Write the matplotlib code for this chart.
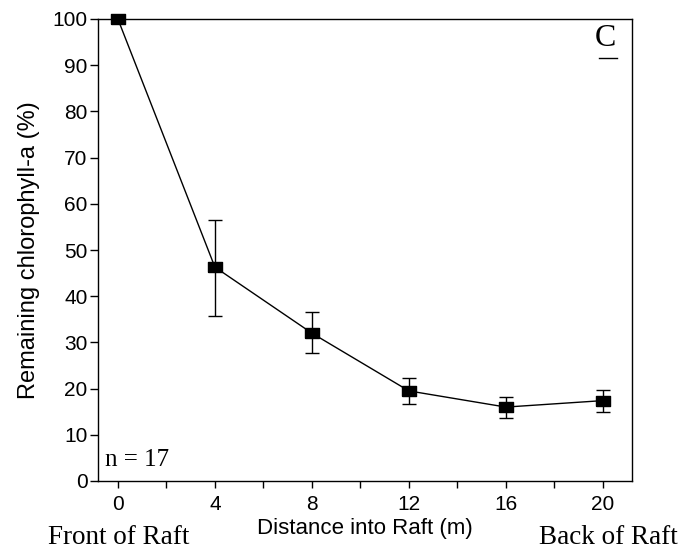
import matplotlib
matplotlib.use('Agg')

import matplotlib.pyplot as plt
import numpy as np

# ---------------------------
# DATA
# ---------------------------
distance = [0, 4, 8, 12, 16, 20]
chl_remaining = [100, 46.3, 32.0, 19.5, 16.0, 17.4]
err_low = [0, 10.6, 4.4, 2.8, 2.4, 2.5]
err_high = [0, 10.2, 4.5, 2.9, 2.1, 2.4]

x_ticks = [0, 4, 8, 12, 16, 20]
x_minor = [2, 6, 10, 14, 18]
y_ticks = list(range(0, 101, 10))

# ---------------------------
# FIGURE
# ---------------------------
plt.rcParams['font.family'] = ['Liberation Sans', 'DejaVu Sans']
fig = plt.figure(figsize=(6.8, 5.53), dpi=100)
ax = fig.add_axes([98 / 680, 1 - 481 / 553, (632 - 98) / 680, (481 - 19) / 553])

# slightly wide filled square, like the original symbols
box = [(-1.3, -1), (1.3, -1), (1.3, 1), (-1.3, 1), (-1.3, -1)]

ax.errorbar(distance, chl_remaining, yerr=[err_low, err_high],
            color='black', lw=1.0, elinewidth=1.0, capsize=5, capthick=1.0,
            marker=box, markersize=9.5, markerfacecolor='black',
            markeredgecolor='black', clip_on=False, zorder=3)

ax.set_xlim(-0.82, 21.2)
ax.set_ylim(0, 100)
ax.set_xticks(x_ticks)
ax.set_xticks(x_minor, minor=True)
ax.set_yticks(y_ticks)
ax.tick_params(axis='both', which='both', direction='out',
               width=1.0, labelsize=15, colors='black')
ax.tick_params(axis='y', length=6, pad=1.5)
ax.tick_params(axis='x', which='both', length=5, pad=5)

for s in ax.spines.values():
    s.set_linewidth(1.0)
    s.set_color('black')

ax.set_ylabel("Remaining chlorophyll-a (%)", fontsize=17, labelpad=9)
ax.set_xlabel("Distance into Raft (m)", fontsize=16, labelpad=3)

serif = ['Liberation Serif', 'DejaVu Serif']
ax.text(0.013, 0.046, "n = 17", transform=ax.transAxes, fontsize=18,
        family=serif, ha='left', va='center')
# panel letter, underlined
ax.text(0.951, 0.957, "C", transform=ax.transAxes, fontsize=23,
        family=serif, ha='center', va='center')
ax.plot([0.938, 0.972], [0.916, 0.916], transform=ax.transAxes,
        color='black', lw=1.0)

fig.text(119 / 680, 1 - 537 / 553, "Front of Raft", fontsize=19.5,
         family=serif, ha='center', va='center')
fig.text(608 / 680, 1 - 537 / 553, "Back of Raft", fontsize=19.5,
         family=serif, ha='center', va='center')

fig.savefig("out.png", dpi=100)
